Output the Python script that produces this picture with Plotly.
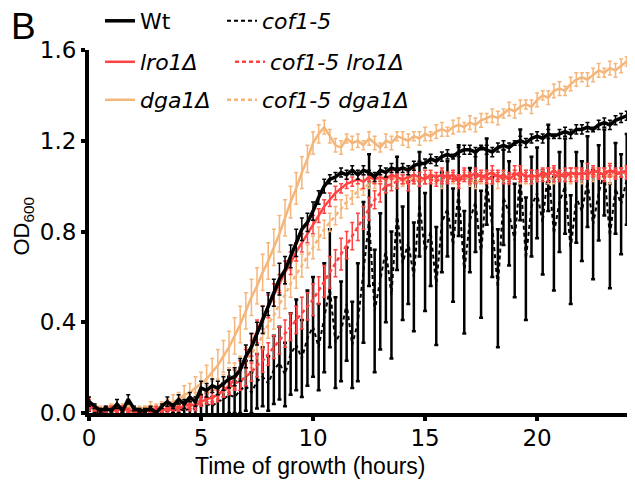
import plotly.graph_objects as go

# sampling every 15 min, 0 to 24.25 h
hours = [i * 0.25 for i in range(98)]

wt = [0.05, 0.03, 0.01, 0.02, 0.01, 0.04, 0.01, 0.06,
      0.02, 0.01, 0.01, 0.02, 0.00, 0.03, 0.05, 0.03,
      0.06, 0.04, 0.07, 0.05, 0.11, 0.10, 0.12, 0.11,
      0.13, 0.15, 0.16, 0.19, 0.25, 0.29, 0.35, 0.41,
      0.48, 0.53, 0.59, 0.63, 0.69, 0.75, 0.81, 0.84,
      0.89, 0.95, 1.00, 1.03, 1.04, 1.06, 1.05, 1.07,
      1.05, 1.07, 1.06, 1.04, 1.07, 1.06, 1.08, 1.07,
      1.08, 1.07, 1.09, 1.10, 1.10, 1.12, 1.11, 1.13,
      1.14, 1.13, 1.15, 1.16, 1.16, 1.15, 1.17, 1.16,
      1.15, 1.17, 1.18, 1.17, 1.19, 1.20, 1.19, 1.21,
      1.22, 1.21, 1.23, 1.22, 1.23, 1.24, 1.23, 1.25,
      1.25, 1.26, 1.25, 1.27, 1.28, 1.27, 1.29, 1.30,
      1.31, 1.30]
wt_err = [0.02, 0.01, 0.01, 0.01, 0.01, 0.02, 0.01, 0.02,
          0.01, 0.01, 0.01, 0.01, 0.01, 0.01, 0.02, 0.01,
          0.02, 0.02, 0.02, 0.02, 0.03, 0.03, 0.03, 0.03,
          0.03, 0.04, 0.04, 0.05, 0.05, 0.06, 0.05, 0.06,
          0.05, 0.06, 0.07, 0.06, 0.05, 0.06, 0.05, 0.04,
          0.04, 0.03, 0.03, 0.02, 0.02, 0.02, 0.02, 0.02,
          0.02, 0.02, 0.01, 0.02, 0.02, 0.02, 0.02, 0.01,
          0.02, 0.02, 0.02, 0.01, 0.02, 0.02, 0.02, 0.02,
          0.02, 0.01, 0.02, 0.02, 0.02, 0.02, 0.01, 0.02,
          0.02, 0.02, 0.02, 0.02, 0.01, 0.02, 0.02, 0.02,
          0.02, 0.02, 0.02, 0.01, 0.02, 0.02, 0.02, 0.02,
          0.02, 0.02, 0.01, 0.02, 0.02, 0.02, 0.02, 0.02,
          0.02, 0.02]

cof = [0.03, 0.01, 0.00, 0.01, 0.02, 0.01, 0.00, 0.01,
       0.01, 0.00, 0.01, 0.01, 0.00, 0.01, 0.02, 0.01,
       0.02, 0.01, 0.02, 0.02, 0.03, 0.04, 0.03, 0.05,
       0.06, 0.08, 0.07, 0.10, 0.12, 0.09, 0.14, 0.16,
       0.13, 0.19, 0.22, 0.17, 0.26, 0.30, 0.24, 0.33,
       0.38, 0.29, 0.42, 0.55, 0.31, 0.36, 0.48, 0.30,
       0.40, 0.62, 0.85, 0.45, 0.58, 0.72, 0.52, 0.88,
       0.66, 0.75, 0.60, 0.92, 0.71, 0.80, 0.56, 0.84,
       0.90, 0.74, 0.98, 0.62, 0.85, 0.93, 0.70, 1.02,
       0.82, 0.55, 0.95, 0.88, 0.76, 1.05, 0.68, 0.91,
       0.97, 0.84, 1.08, 0.79, 0.93, 1.00, 0.72, 0.95,
       0.89, 1.02, 0.83, 0.97, 1.06, 0.78, 0.99, 0.92,
       1.03, 0.88]
cof_err = [0.02, 0.01, 0.01, 0.01, 0.01, 0.01, 0.01, 0.01,
           0.01, 0.01, 0.01, 0.01, 0.01, 0.01, 0.01, 0.01,
           0.02, 0.02, 0.03, 0.03, 0.04, 0.05, 0.04, 0.06,
           0.07, 0.08, 0.07, 0.10, 0.11, 0.09, 0.12, 0.13,
           0.12, 0.15, 0.16, 0.14, 0.18, 0.20, 0.17, 0.21,
           0.22, 0.19, 0.24, 0.26, 0.20, 0.22, 0.25, 0.19,
           0.26, 0.31, 0.29, 0.27, 0.30, 0.32, 0.28, 0.25,
           0.25, 0.27, 0.24, 0.23, 0.26, 0.24, 0.26, 0.22,
           0.21, 0.25, 0.20, 0.27, 0.23, 0.22, 0.28, 0.19,
           0.22, 0.26, 0.21, 0.23, 0.25, 0.20, 0.27, 0.22,
           0.20, 0.23, 0.19, 0.25, 0.22, 0.21, 0.24, 0.20,
           0.22, 0.20, 0.24, 0.21, 0.19, 0.23, 0.20, 0.22,
           0.20, 0.23]

lro1 = [0.03, 0.02, 0.01, 0.01, 0.02, 0.01, 0.02, 0.01,
        0.01, 0.00, 0.01, 0.01, 0.02, 0.01, 0.02, 0.03,
        0.02, 0.03, 0.04, 0.03, 0.05, 0.06, 0.07, 0.08,
        0.10, 0.12, 0.15, 0.19, 0.24, 0.30, 0.36, 0.42,
        0.47, 0.52, 0.57, 0.62, 0.66, 0.71, 0.75, 0.79,
        0.83, 0.87, 0.91, 0.94, 0.97, 0.99, 1.01, 1.02,
        1.03, 1.02, 1.04, 1.03, 1.04, 1.03, 1.05, 1.04,
        1.03, 1.04, 1.05, 1.04, 1.03, 1.05, 1.04, 1.05,
        1.04, 1.05, 1.03, 1.05, 1.04, 1.06, 1.04, 1.05,
        1.06, 1.04, 1.05, 1.03, 1.05, 1.06, 1.04, 1.05,
        1.04, 1.06, 1.05, 1.07, 1.05, 1.04, 1.06, 1.05,
        1.06, 1.05, 1.07, 1.06, 1.05, 1.07, 1.06, 1.06,
        1.07, 1.06]
lro1_err = [0.02, 0.01, 0.01, 0.01, 0.01, 0.01, 0.01, 0.01,
            0.01, 0.01, 0.01, 0.01, 0.01, 0.01, 0.01, 0.01,
            0.01, 0.01, 0.02, 0.02, 0.02, 0.02, 0.03, 0.03,
            0.03, 0.03, 0.04, 0.04, 0.04, 0.05, 0.05, 0.05,
            0.05, 0.05, 0.04, 0.05, 0.05, 0.04, 0.04, 0.04,
            0.04, 0.03, 0.03, 0.03, 0.03, 0.02, 0.02, 0.02,
            0.02, 0.03, 0.02, 0.02, 0.02, 0.03, 0.02, 0.02,
            0.02, 0.02, 0.03, 0.02, 0.02, 0.02, 0.02, 0.03,
            0.02, 0.02, 0.02, 0.03, 0.02, 0.02, 0.02, 0.02,
            0.03, 0.02, 0.02, 0.02, 0.02, 0.03, 0.02, 0.02,
            0.02, 0.02, 0.03, 0.02, 0.02, 0.02, 0.02, 0.03,
            0.02, 0.02, 0.02, 0.02, 0.03, 0.02, 0.02, 0.02,
            0.02, 0.02]

cof_lro1 = [0.04, 0.02, 0.01, 0.02, 0.01, 0.01, 0.02, 0.01,
            0.01, 0.01, 0.00, 0.01, 0.01, 0.02, 0.01, 0.02,
            0.02, 0.03, 0.02, 0.03, 0.06, 0.07, 0.07, 0.08,
            0.10, 0.11, 0.13, 0.14, 0.16, 0.18, 0.21, 0.23,
            0.26, 0.29, 0.32, 0.35, 0.38, 0.41, 0.44, 0.47,
            0.50, 0.54, 0.58, 0.62, 0.66, 0.70, 0.74, 0.78,
            0.82, 0.86, 0.90, 0.94, 0.97, 1.00, 1.01, 1.02,
            1.03, 1.01, 1.03, 1.02, 1.04, 1.03, 1.02, 1.04,
            1.03, 1.04, 1.02, 1.05, 1.03, 1.04, 1.05, 1.03,
            1.04, 1.05, 1.03, 1.04, 1.06, 1.04, 1.05, 1.04,
            1.05, 1.04, 1.06, 1.05, 1.04, 1.06, 1.05, 1.06,
            1.05, 1.07, 1.06, 1.05, 1.06, 1.07, 1.05, 1.06,
            1.06, 1.07]
cof_lro1_err = [0.02, 0.01, 0.01, 0.01, 0.01, 0.01, 0.01, 0.01,
                0.01, 0.01, 0.01, 0.01, 0.01, 0.01, 0.01, 0.01,
                0.01, 0.01, 0.01, 0.01, 0.02, 0.02, 0.02, 0.02,
                0.03, 0.03, 0.03, 0.04, 0.04, 0.04, 0.05, 0.05,
                0.05, 0.05, 0.06, 0.06, 0.06, 0.06, 0.07, 0.06,
                0.07, 0.06, 0.07, 0.07, 0.06, 0.07, 0.06, 0.06,
                0.06, 0.05, 0.05, 0.04, 0.04, 0.03, 0.03, 0.03,
                0.02, 0.03, 0.02, 0.02, 0.03, 0.02, 0.02, 0.03,
                0.02, 0.02, 0.03, 0.02, 0.02, 0.03, 0.02, 0.02,
                0.03, 0.02, 0.02, 0.02, 0.03, 0.02, 0.02, 0.03,
                0.02, 0.02, 0.02, 0.03, 0.02, 0.02, 0.03, 0.02,
                0.02, 0.03, 0.02, 0.02, 0.02, 0.03, 0.02, 0.02,
                0.03, 0.02]

dga1 = [0.05, 0.03, 0.02, 0.02, 0.03, 0.02, 0.02, 0.04,
        0.02, 0.02, 0.02, 0.03, 0.02, 0.03, 0.04, 0.05,
        0.06, 0.08, 0.09, 0.11, 0.13, 0.15, 0.18, 0.21,
        0.25, 0.29, 0.34, 0.39, 0.45, 0.51, 0.56, 0.62,
        0.67, 0.73, 0.79, 0.86, 0.93, 0.99, 1.06, 1.12,
        1.19, 1.23, 1.26, 1.22, 1.18, 1.17, 1.21, 1.19,
        1.20, 1.18, 1.21, 1.19, 1.17, 1.20, 1.19, 1.22,
        1.21, 1.20, 1.22, 1.21, 1.23, 1.22, 1.24, 1.25,
        1.24, 1.26, 1.27, 1.26, 1.28, 1.27, 1.29, 1.30,
        1.31, 1.30, 1.32, 1.34, 1.33, 1.35, 1.36, 1.35,
        1.38, 1.40, 1.39, 1.42, 1.43, 1.42, 1.45, 1.47,
        1.48, 1.47, 1.49, 1.51, 1.50, 1.52, 1.51, 1.53,
        1.55, 1.56]
dga1_err = [0.02, 0.01, 0.01, 0.01, 0.01, 0.01, 0.01, 0.02,
            0.01, 0.01, 0.01, 0.02, 0.01, 0.02, 0.02, 0.03,
            0.03, 0.04, 0.04, 0.05, 0.05, 0.06, 0.06, 0.07,
            0.07, 0.07, 0.08, 0.08, 0.08, 0.08, 0.08, 0.08,
            0.08, 0.08, 0.08, 0.08, 0.07, 0.07, 0.07, 0.06,
            0.05, 0.04, 0.03, 0.03, 0.03, 0.03, 0.02, 0.03,
            0.03, 0.02, 0.03, 0.03, 0.02, 0.03, 0.03, 0.02,
            0.03, 0.03, 0.02, 0.03, 0.03, 0.02, 0.03, 0.03,
            0.02, 0.03, 0.03, 0.02, 0.03, 0.03, 0.03, 0.02,
            0.03, 0.03, 0.02, 0.03, 0.03, 0.03, 0.02, 0.03,
            0.03, 0.02, 0.03, 0.03, 0.03, 0.02, 0.03, 0.03,
            0.02, 0.03, 0.03, 0.03, 0.02, 0.03, 0.03, 0.03,
            0.02, 0.03]

cof_dga1 = [0.03, 0.02, 0.01, 0.02, 0.02, 0.01, 0.03, 0.02,
            0.02, 0.01, 0.02, 0.02, 0.03, 0.02, 0.03, 0.04,
            0.04, 0.05, 0.05, 0.06, 0.08, 0.09, 0.10, 0.11,
            0.13, 0.15, 0.17, 0.20, 0.23, 0.26, 0.30, 0.34,
            0.39, 0.43, 0.48, 0.52, 0.57, 0.61, 0.65, 0.69,
            0.73, 0.77, 0.81, 0.84, 0.87, 0.90, 0.93, 0.95,
            0.98, 0.99, 1.01, 1.02, 1.03, 1.02, 1.03, 1.04,
            1.02, 1.03, 1.04, 1.02, 1.03, 1.04, 1.03, 1.02,
            1.04, 1.03, 1.02, 1.04, 1.03, 1.01, 1.03, 1.04,
            1.03, 1.02, 1.04, 1.03, 1.05, 1.03, 1.04, 1.03,
            1.04, 1.05, 1.03, 1.04, 1.05, 1.04, 1.03, 1.05,
            1.04, 1.05, 1.04, 1.06, 1.05, 1.04, 1.05, 1.06,
            1.05, 1.06]
cof_dga1_err = [0.01, 0.01, 0.01, 0.01, 0.01, 0.01, 0.01, 0.01,
                0.01, 0.01, 0.01, 0.01, 0.01, 0.01, 0.01, 0.01,
                0.02, 0.02, 0.02, 0.03, 0.03, 0.03, 0.04, 0.04,
                0.04, 0.05, 0.05, 0.05, 0.06, 0.06, 0.06, 0.06,
                0.06, 0.06, 0.06, 0.06, 0.06, 0.06, 0.05, 0.05,
                0.05, 0.05, 0.04, 0.04, 0.04, 0.04, 0.03, 0.03,
                0.03, 0.03, 0.02, 0.03, 0.02, 0.02, 0.03, 0.02,
                0.02, 0.02, 0.03, 0.02, 0.02, 0.02, 0.02, 0.03,
                0.02, 0.02, 0.02, 0.02, 0.03, 0.02, 0.02, 0.02,
                0.02, 0.03, 0.02, 0.02, 0.02, 0.02, 0.03, 0.02,
                0.02, 0.02, 0.02, 0.03, 0.02, 0.02, 0.02, 0.02,
                0.03, 0.02, 0.02, 0.02, 0.02, 0.03, 0.02, 0.02,
                0.02, 0.02]

BLACK = "#000000"
RED = "#FF4242"
ORANGE = "#F4B67A"
FONT = "Liberation Sans, Arial, sans-serif"
WIDE = "DejaVu Sans, Liberation Sans, sans-serif"
DASH = "4px,3px"

# the page body adds an 8px margin, so the figure is 8px smaller than the window
W, H = 627, 474

# name, y, err, color, dash, line width, error bar thickness, legend id
series = [
    ("<i>cof1-5</i>", cof, cof_err, BLACK, DASH, 2, 2.5, "legend2"),
    ("<i>cof1-5 dga1Δ</i>", cof_dga1, cof_dga1_err, ORANGE, DASH, 2.5, 1.5, "legend6"),
    ("<i>dga1Δ</i>", dga1, dga1_err, ORANGE, "solid", 2.5, 1.5, "legend5"),
    ("<i>cof1-5 lro1Δ</i>", cof_lro1, cof_lro1_err, RED, DASH, 2.5, 1.5, "legend4"),
    ("<i>lro1Δ</i>", lro1, lro1_err, RED, "solid", 2.5, 1.5, "legend3"),
    ("Wt", wt, wt_err, BLACK, "solid", 3.5, 1.5, "legend"),
]

fig = go.Figure()
for name, y, err, color, dash, w, bar_w, leg in series:
    fig.add_trace(go.Scatter(
        x=hours, y=y, name=name, mode="lines", legend=leg,
        line=dict(color=color, width=w, dash=dash),
        error_y=dict(type="data", array=err, color=color, thickness=bar_w, width=2),
    ))


def leg_pos(xpx, ypx):
    return dict(x=xpx / W, y=1 - ypx / H, xref="container", yref="container",
                xanchor="left", yanchor="middle", bgcolor="rgba(0,0,0,0)",
                font=dict(family=WIDE, size=22, color="black"))


fig.update_layout(
    width=W, height=H,
    margin=dict(l=81, r=0, t=42, b=69, autoexpand=False),
    paper_bgcolor="white", plot_bgcolor="white",
    font=dict(family=FONT, color="black"),
    showlegend=True,
    legend=leg_pos(92, 13),
    legend2=leg_pos(214, 13),
    legend3=leg_pos(92, 54),
    legend4=leg_pos(222, 54),
    legend5=leg_pos(92, 92),
    legend6=leg_pos(214, 92),
    xaxis=dict(range=[0, 24.37], tickvals=[0, 5, 10, 15, 20], showgrid=False,
               zeroline=False, showline=True, linecolor="black", linewidth=4,
               ticks="outside", ticklen=4, tickwidth=4, tickcolor="black",
               ticklabelstandoff=-3,
               tickfont=dict(family=WIDE, size=23, color="black")),
    yaxis=dict(range=[0, 1.6], tickvals=[0, 0.4, 0.8, 1.2, 1.6], tickformat=".1f",
               showgrid=False, zeroline=False, showline=True, linecolor="black",
               linewidth=4, ticks="outside", ticklen=4, tickwidth=4, tickcolor="black",
               tickfont=dict(family=WIDE, size=23, color="black")),
    annotations=[
        dict(text="B", x=-0.146, y=1.065, xref="paper", yref="paper", xanchor="left",
             yanchor="middle", showarrow=False, font=dict(family=FONT, size=37)),
        dict(text="Time of growth (hours)", x=0.405, y=-0.146, xref="paper", yref="paper",
             xanchor="center", yanchor="middle", showarrow=False,
             font=dict(family=FONT, size=23)),
        dict(text="OD<sub>600</sub>", x=-0.12, y=0.515, xref="paper", yref="paper",
             xanchor="center", yanchor="middle", textangle=-90, showarrow=False,
             font=dict(family=FONT, size=22)),
    ],
)

fig.write_html("out.html")
